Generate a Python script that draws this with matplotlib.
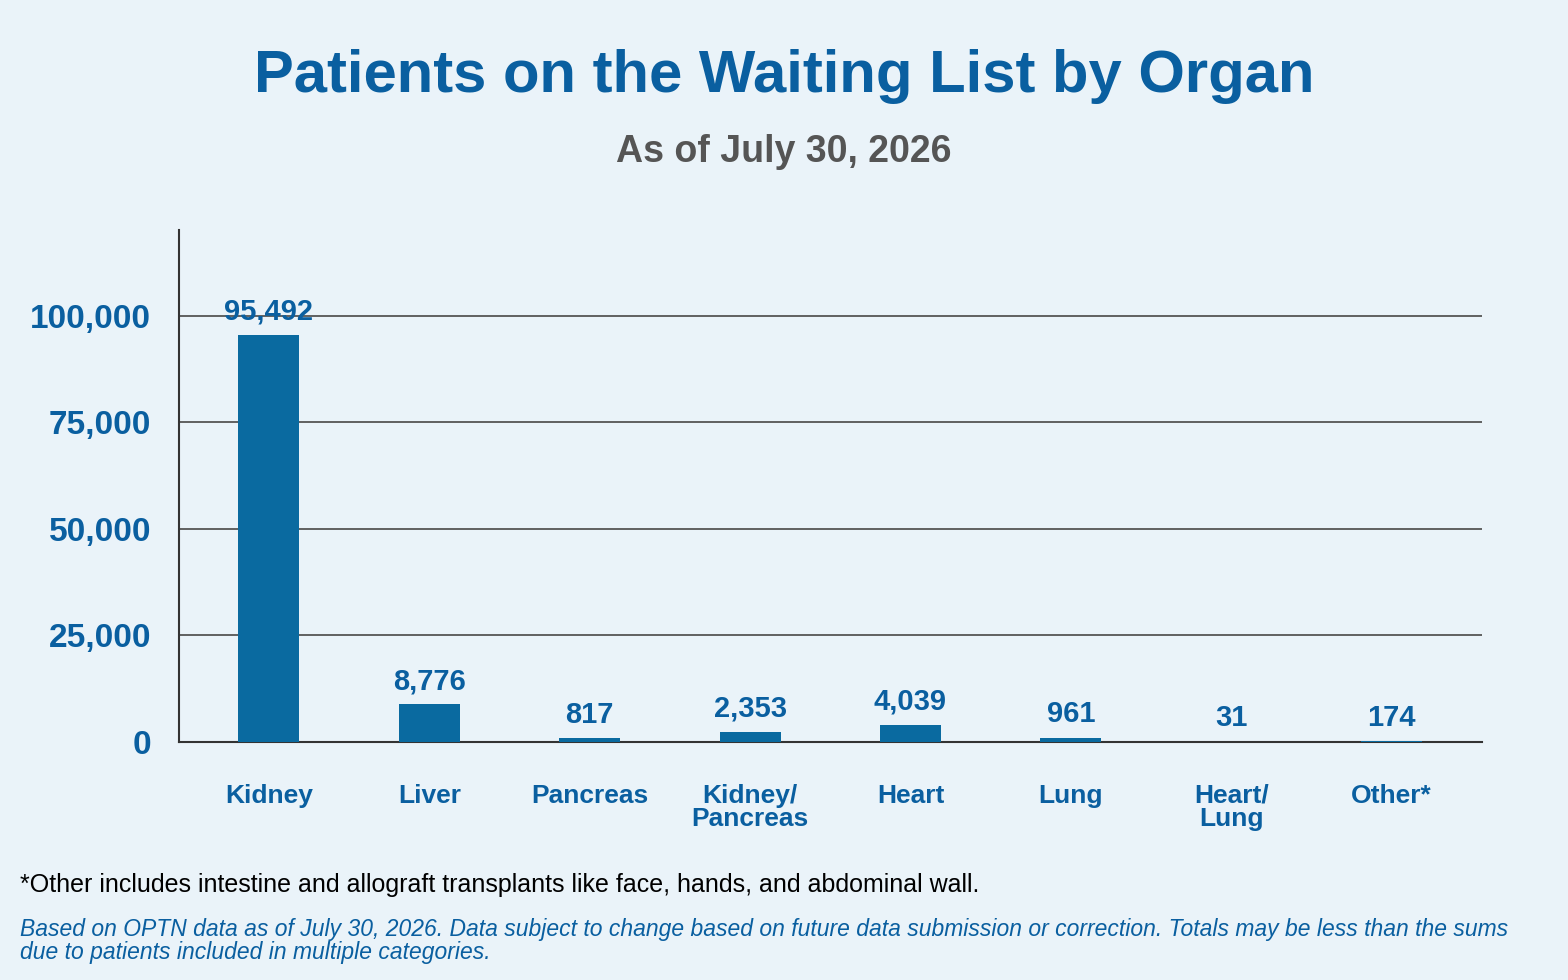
import matplotlib
matplotlib.use("Agg")
import matplotlib.pyplot as plt

categories = ["Kidney", "Liver", "Pancreas", "Kidney/\nPancreas", "Heart", "Lung", "Heart/\nLung", "Other*"]
values = [95492, 8776, 817, 2353, 4039, 961, 31, 174]
yticks = [0, 25000, 50000, 75000, 100000]

plt.rcParams['font.family'] = ['Liberation Sans', 'DejaVu Sans']
bg = "#eaf3f9"
blue = "#0a5fa0"
bar_c = "#0a6aa0"

fig = plt.figure(figsize=(15.68, 9.8), dpi=100, facecolor=bg)
ax = fig.add_axes([0.114, 0.243, 0.831, 0.522], facecolor=bg)
x = list(range(len(categories)))
ax.bar(x, values, width=0.38, color=bar_c, zorder=3)
for xi, v in zip(x, values):
    ax.text(xi, v + 2200, f"{v:,}", ha="center", va="bottom", fontsize=21, fontweight="bold", color=blue, zorder=4)
ax.set_xlim(-0.5625, 7.5625)
ax.set_ylim(0, 120000)
ax.set_yticks(yticks)
ax.set_yticklabels([f"{t:,}" for t in yticks], fontsize=24, fontweight="bold", color=blue)
ax.set_xticks(x)
ax.set_xticklabels(categories, fontsize=19, fontweight="bold", color=blue, linespacing=0.95, va="top")
ax.tick_params(axis="both", length=0)
ax.tick_params(axis="x", pad=30)
ax.tick_params(axis="y", pad=20)
for t in yticks[1:]:
    ax.axhline(t, color="#555555", lw=1.3, zorder=1)
for s in ["top", "right"]:
    ax.spines[s].set_visible(False)
for s in ["left", "bottom"]:
    ax.spines[s].set_color("#333333")
    ax.spines[s].set_linewidth(1.5)

fig.text(0.5, 0.922, "Patients on the Waiting List by Organ", ha="center", va="center", fontsize=43, fontweight="bold", color=blue)
fig.text(0.5, 0.845, "As of July 30, 2026", ha="center", va="center", fontsize=27, fontweight="bold", color="#555555")
fig.text(0.013, 0.097, "*Other includes intestine and allograft transplants like face, hands, and abdominal wall.", ha="left", va="center", fontsize=18, color="black")
fig.text(0.013, 0.04, "Based on OPTN data as of July 30, 2026. Data subject to change based on future data submission or correction. Totals may be less than the sums\ndue to patients included in multiple categories.", ha="left", va="center", fontsize=16.5, style="italic", color=blue, linespacing=1.0)
fig.savefig("out.png", facecolor=bg)
